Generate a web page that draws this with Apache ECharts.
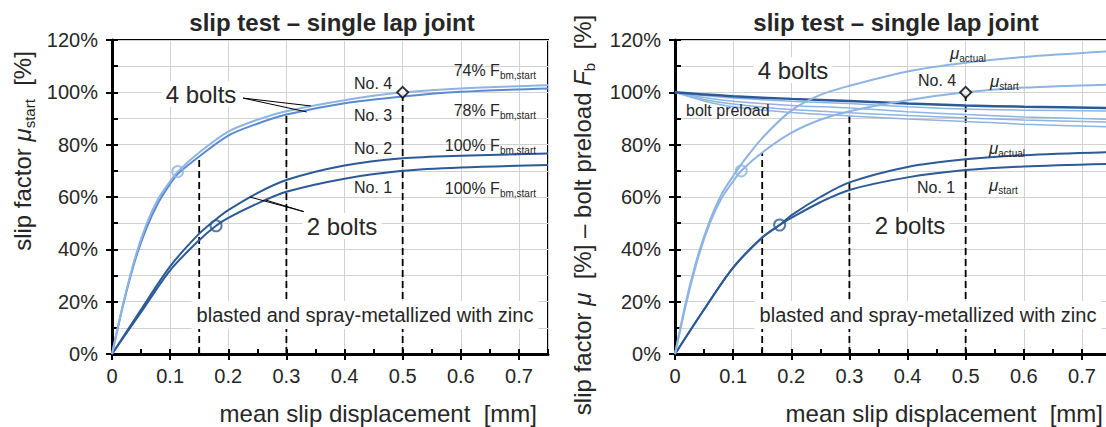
<!DOCTYPE html>
<html><head><meta charset="utf-8">
<script src="https://cdn.jsdelivr.net/npm/echarts@6/dist/echarts.min.js"></script>
<style>html,body{margin:0;padding:0;background:#fff}#c{width:1106px;height:427px}</style>
</head><body><div id="c"></div>
<script>
// ---------- data ----------
const xTickLabels = ['0','0.1','0.2','0.3','0.4','0.5','0.6','0.7'];
const yTickLabels = ['0%','20%','40%','60%','80%','100%','120%'];

// left chart: slip factor mu_start [%]
const xs4 = [0,0.02,0.04,0.06,0.08,0.1,0.113,0.15,0.2,0.25,0.3,0.4,0.5,0.6,0.75];
const no4 = [0,20,37,50,59.5,66,69.7,77,85,89.5,92.8,97,100,101.5,102.7];
const no3 = [0,19.5,36,48.5,58,65,68.8,75.5,83.5,88,91.5,95.8,98.4,100.2,101.5];
const xs2 = [0,0.05,0.1,0.15,0.179,0.2,0.25,0.3,0.4,0.5,0.6,0.75];
const no2 = [0,17,33.5,46,51.5,55,61.5,66.5,72,74.8,75.8,76.6];
const no1 = [0,16,32,43.5,49,52,57.5,62,67,70,71.3,72.2];

// right chart: slip factor mu and bolt preload [%]
const xsR4 = [0,0.02,0.04,0.06,0.08,0.1,0.114,0.15,0.2,0.25,0.3,0.4,0.5,0.6,0.75];
const muActual4 = [0,21,38,51,61,68,72.5,82.5,93,99,102.5,108,111.3,113.5,115.7];
const muStart4  = [0,20,37,50,59.5,66,70,77,84.5,89.5,92.8,97,100,101.8,103];
const xsR2 = [0,0.05,0.1,0.15,0.18,0.2,0.25,0.3,0.4,0.5,0.6,0.75];
const muActual2 = [0,17,33,44.5,49.3,53,60,65.6,71.5,74.4,76,77.2];
const muStart2  = [0,17,33,44.5,49.3,52,58,62.7,67.5,70.3,71.7,72.7];
const xsP = [0,0.05,0.1,0.2,0.3,0.4,0.5,0.6,0.75];
const preload2  = [100,99.2,98.5,97.5,96.7,95.7,95.0,94.5,94.0];
const preloadA  = [100,98.8,97.8,96.6,95.7,94.5,93.6,93.2,92.8];
const preloadB  = [100,98.0,96.6,95.0,94.0,92.6,91.5,90.6,89.7];
const preloadC  = [100,97.3,95.5,93.4,92.2,91.1,90.2,89.4,88.6];
const preloadD  = [100,96.7,94.5,92.3,91.0,89.8,88.9,87.8,86.8];

// reference lines / markers
const dashX = [0.15,0.3,0.5];
const dashTopL = [75.5,91,100];
const dashTopR = [77,92.5,100];
const diamondPt = [0.5,100];
const circlesL = [[0.113,69.7],[0.179,49]];
const circlesR = [[0.114,70],[0.18,49.3]];
const leader4L = [[0.342,94.8],[0.2254,97.8],[0.335,92.5]];
const leader2L = [[0.237,60],[0.330,54.4],[0.265,58.8]];

// ---------- style ----------
const FONT = "'Liberation Sans', Arial, Helvetica, sans-serif";
const LIGHT = '#8DB4E2', MED = '#5A8AD2', DARK = '#2C5A96';
const TXT = '#262626';
const GRIDC = '#d2d2d2';

const chart = echarts.init(document.getElementById('c'), null, {renderer:'svg', width:1106, height:427});

const grids = [
  {left:112, top:40, width:436, height:314},
  {left:675, top:40, width:436, height:314}
].map(g => Object.assign(g, {show:true, borderColor:'#000', borderWidth:2, backgroundColor:'transparent', containLabel:false, outerBoundsMode:'none'}));

const xAxes = [], yAxes = [];
[0,1].forEach(gi => {
  xAxes.push({gridIndex:gi, type:'value', min:0, max:0.75, interval:0.1, position:'bottom',
    axisLine:{show:true, onZero:false, lineStyle:{color:'#000', width:3}},
    axisTick:{show:true, inside:false, length:6, lineStyle:{color:'#000', width:2}},
    axisLabel:{show:true, margin:12, fontSize:20, color:TXT, fontFamily:FONT, showMaxLabel:false,
      formatter: v => { const k = Math.round(v*10); return (Math.abs(v*10-k) < 1e-6 && xTickLabels[k] !== undefined) ? xTickLabels[k] : ''; }},
    splitLine:{show:true, lineStyle:{color:GRIDC, width:1}}});
  xAxes.push({gridIndex:gi, type:'value', min:0, max:0.75, interval:0.05, position:'bottom', offset:0,
    axisLine:{show:false}, axisTick:{show:true, inside:true, length:5, lineStyle:{color:'#000', width:2}},
    axisLabel:{show:false}, splitLine:{show:false}});
  yAxes.push({gridIndex:gi, type:'value', min:0, max:120, interval:20, position:'left',
    axisLine:{show:true, onZero:false, lineStyle:{color:'#000', width:3}},
    axisTick:{show:true, inside:false, length:6, lineStyle:{color:'#000', width:2}},
    axisLabel:{show:true, margin:14, fontSize:20, color:TXT, fontFamily:FONT,
      formatter: v => { const k = Math.round(v/20); return yTickLabels[k] || ''; }},
    splitLine:{show:false}});
  yAxes.push({gridIndex:gi, type:'value', min:0, max:120, interval:10, position:'left', offset:0,
    axisLine:{show:false}, axisTick:{show:true, inside:true, length:6, lineStyle:{color:'#000', width:2}},
    axisLabel:{show:false}, splitLine:{show:true, lineStyle:{color:GRIDC, width:1}}});
});

function pairs(xs, ys){ return xs.map((x,i)=>[x, ys[i]]); }
function curve(gi, xs, ys, color, width, z){
  return {type:'line', xAxisIndex:gi*2, yAxisIndex:gi*2, data:pairs(xs,ys), smooth:0.3,
    symbol:'none', showSymbol:false, silent:true, animation:false, z:z||3,
    lineStyle:{color:color, width:width}};
}
function poly(gi, pts, color, width, type, z){
  return {type:'line', xAxisIndex:gi*2, yAxisIndex:gi*2, data:pts, smooth:false, symbol:'none', showSymbol:false,
    silent:true, animation:false, z:z||4, lineStyle:{color:color, width:width, type:type||'solid'}};
}
function marker(gi, pt, sym, size, border){
  return {type:'scatter', xAxisIndex:gi*2, yAxisIndex:gi*2, data:[pt], symbol:sym, symbolSize:size, silent:true,
    animation:false, z:6, itemStyle:{color:sym==='diamond' ? '#fff' : 'rgba(255,255,255,0)', borderColor:border, borderWidth:2}};
}

const series = [];
// left
dashX.forEach((x,i)=> series.push(poly(0, [[x,0],[x,dashTopL[i]]], '#000', 1.8, [7,4], 2)));
series.push(curve(0, xs2, no1, DARK, 2));
series.push(curve(0, xs2, no2, DARK, 2));
series.push(curve(0, xs4, no3, MED, 2));
series.push(curve(0, xs4, no4, LIGHT, 2));
series.push(poly(0, leader4L, '#000', 1));
series.push(poly(0, leader2L, '#000', 1));
series.push(marker(0, circlesL[0], 'circle', 11, LIGHT));
series.push(marker(0, circlesL[1], 'circle', 11, DARK));
series.push(marker(0, diamondPt, 'diamond', 11, '#000'));
// right
dashX.forEach((x,i)=> series.push(poly(1, [[x,0],[x,dashTopR[i]]], '#000', 1.8, [7,4], 2)));
[preloadA, preloadB, preloadC, preloadD].forEach(p => series.push(curve(1, xsP, p, LIGHT, 1.5)));
series.push(curve(1, xsP, preload2, DARK, 2.5));
series.push(curve(1, xsR2, muStart2, DARK, 2));
series.push(curve(1, xsR2, muActual2, DARK, 2));
series.push(curve(1, xsR4, muStart4, LIGHT, 2));
series.push(curve(1, xsR4, muActual4, LIGHT, 2));
series.push(marker(1, circlesR[0], 'circle', 11, LIGHT));
series.push(marker(1, circlesR[1], 'circle', 11, DARK));
series.push(marker(1, diamondPt, 'diamond', 11, '#000'));

// ---------- texts ----------
const RICH = {
  s:{fontSize:10, fontFamily:FONT, fill:TXT, verticalAlign:'bottom', lineHeight:12},
  i:{fontSize:17, fontFamily:FONT, fill:TXT, fontStyle:'italic'},
  S:{fontSize:15, fontFamily:FONT, fill:TXT, verticalAlign:'bottom', lineHeight:16},
  I:{fontSize:24, fontFamily:FONT, fill:TXT, fontStyle:'italic'}
};
function T(x, y, text, o){
  o = o || {};
  const st = {text:text, fontSize:o.size||16, fontFamily:FONT, fontWeight:o.bold?'bold':'normal', fill:o.color||TXT,
    align:o.align||'left', verticalAlign:'middle', lineHeight:o.lh||20, rich:RICH};
  if (o.bg) { st.backgroundColor = '#fff'; st.padding = o.pad || [0,4]; }
  return {type:'text', x:x, y:y, rotation:o.rot||0, z:100, silent:true, style:st};
}
const xName = 'mean slip displacement  [mm]';
const title = 'slip test – single lap joint';
const coating = 'blasted and spray-metallized with zinc';
const graphics = [
  T(332, 22, title, {size:24, bold:true, align:'center', lh:28}),
  T(896, 22, title, {size:24, bold:true, align:'center', lh:28}),
  T(22, 151, 'slip factor {I|μ}{S|start}  [%]', {size:24, align:'center', rot:Math.PI/2, lh:30}),
  T(582, 215, 'slip factor {I|μ}  [%] – bolt preload {I|F}{S|b}  [%]', {size:24, align:'center', rot:Math.PI/2, lh:30}),
  T(537, 413, xName, {size:24, align:'right', lh:28}),
  T(1103, 413, xName, {size:24, align:'right', lh:28}),
  // left annotations
  T(201, 94, '4 bolts', {size:24, align:'center', bg:true, lh:26}),
  T(342, 226, '2 bolts', {size:24, align:'center', bg:true, lh:26}),
  T(354, 83, 'No. 4'), T(354, 115, 'No. 3'), T(354, 148, 'No. 2'), T(354, 187, 'No. 1'),
  T(536, 70, '74% F{s|bm,start}', {align:'right'}),
  T(536, 110, '78% F{s|bm,start}', {align:'right'}),
  T(536, 145, '100% F{s|bm,start}', {align:'right'}),
  T(536, 188, '100% F{s|bm,start}', {align:'right'}),
  T(365, 315, coating, {size:20, align:'center', bg:true, pad:[2,5], lh:24}),
  // right annotations
  T(793, 70, '4 bolts', {size:24, align:'center', bg:true, lh:26}),
  T(910, 225, '2 bolts', {size:24, align:'center', bg:true, lh:26}),
  T(950, 53, '{i|μ}{s|actual}'),
  T(918, 80, 'No. 4'),
  T(990, 81, '{i|μ}{s|start}'),
  T(686, 110, 'bolt preload'),
  T(989, 148, '{i|μ}{s|actual}'),
  T(917, 187, 'No. 1'),
  T(989, 185, '{i|μ}{s|start}'),
  T(928, 315, coating, {size:20, align:'center', bg:true, pad:[2,5], lh:24})
];

chart.setOption({
  animation:false,
  backgroundColor:'#fff',
  textStyle:{fontFamily:FONT},
  grid:grids, xAxis:xAxes, yAxis:yAxes, series:series, graphic:graphics
});
</script></body></html>
